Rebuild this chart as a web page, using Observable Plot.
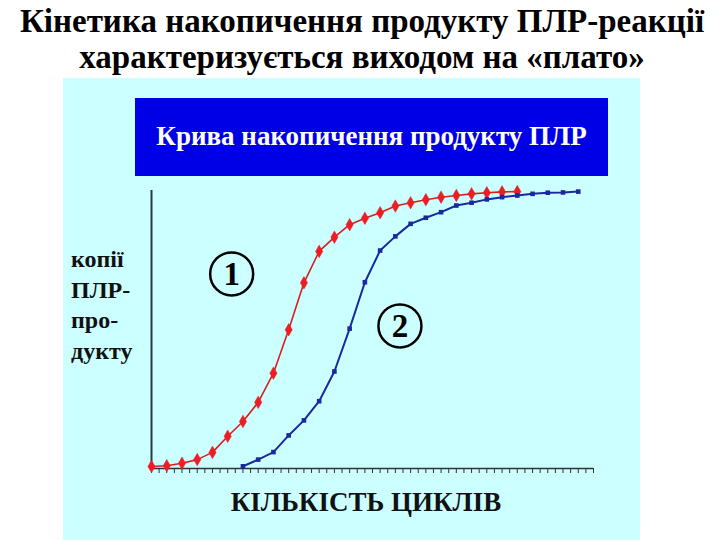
<!DOCTYPE html>
<html>
<head>
<meta charset="utf-8">
<script src="https://cdn.jsdelivr.net/npm/d3@7"></script>
<script src="https://cdn.jsdelivr.net/npm/@observablehq/plot@0.6"></script>
<style>
  html, body { margin: 0; padding: 0; background: #ffffff; }
  #page { position: relative; width: 720px; height: 540px; overflow: hidden; font-family: "Liberation Serif", "Times New Roman", serif; }
  #title { position: absolute; left: -39px; top: 3px; width: 800px; text-align: center; white-space: nowrap; font-weight: bold; font-size: 33px; line-height: 36px; color: #000; transform: translateX(1px); }
  #panel { position: absolute; left: 63px; top: 78px; width: 577px; height: 462px; background: #ccffff; }
  #box { position: absolute; left: 72px; top: 20px; width: 473px; height: 78px; background: #0000e6; color: #ffffff; font-weight: bold; font-size: 27px; line-height: 76px; text-align: center; white-space: nowrap; }
  #ylab { position: absolute; left: 8px; top: 166px; font-weight: bold; font-size: 24px; line-height: 30.5px; color: #111; }
  #xlab { position: absolute; left: 0; top: 409px; width: 606px; text-align: center; font-weight: bold; font-size: 27px; line-height: 30px; color: #111; white-space: nowrap; }
  #chart { position: absolute; left: 0; top: 0; }
</style>
</head>
<body>
<div id="page">
  <div id="title">Кінетика накопичення продукту ПЛР-реакції<br>характеризується виходом на «плато»</div>
  <div id="panel">
    <div id="chart"></div>
    <div id="box">Крива накопичення продукту ПЛР</div>
    <div id="ylab">копії<br>ПЛР-<br>про-<br>дукту</div>
    <div id="xlab">КІЛЬКІСТЬ ЦИКЛІВ</div>
  </div>
</div>
<script>
// Curve 1 (red): cycles and relative copies
const redCycles = [0,1,2,3,4,5,6,7,8,9,10,11,12,13,14,15,16,17,18,19,20,21,22,23,24];
const redValues = [0.7,1.0,1.9,3.2,5.8,11.6,16.9,23.8,34.3,49.9,66.8,78.1,83.2,87.7,90.0,92.0,94.4,95.6,96.7,97.6,98.2,98.8,99.2,99.5,99.6];
// Curve 2 (blue)
const blueCycles = [6,7,8,9,10,11,12,13,14,15,16,17,18,19,20,21,22,23,24,25,26,27,28];
const blueValues = [0.8,3.2,5.9,11.9,17.3,24.2,34.9,50.3,67.0,78.4,83.5,88.0,90.2,92.2,94.6,95.6,96.8,97.6,98.2,98.8,99.2,99.3,99.6];
// Circled curve labels
const labelText = ["1", "2"];
const labelX = [5.26, 16.3];
const labelY = [70, 51.3];

const red = redCycles.map((c, i) => ({cycle: c, copies: redValues[i]}));
const blue = blueCycles.map((c, i) => ({cycle: c, copies: blueValues[i]}));
const labels = labelText.map((t, i) => ({t, x: labelX[i], y: labelY[i]}));
const tickPositions = d3.range(0, 29.001, 0.5);

const chart = Plot.plot({
  width: 577,
  height: 462,
  marginLeft: 88,
  marginRight: 47,
  marginTop: 112,
  marginBottom: 72,
  style: {background: "transparent", fontFamily: "Liberation Serif, serif"},
  x: {domain: [0, 29]},
  y: {domain: [0, 100], axis: null},
  marks: [
    Plot.axisX({ticks: tickPositions, tickSize: 5, tickFormat: () => "", label: null, stroke: "#333", strokeWidth: 1}),
    Plot.ruleY([0], {stroke: "#333", strokeWidth: 1.5}),
    Plot.ruleX([0], {stroke: "#2a3a40", strokeWidth: 2}),
    Plot.line(red, {x: "cycle", y: "copies", stroke: "#d42020", strokeWidth: 1.6, curve: "linear"}),
    Plot.dot(red, {x: "cycle", y: "copies", symbol: "diamond", r: 3.8, fill: "#f01c24", stroke: "#e02028", strokeWidth: 0.5}),
    Plot.line(blue, {x: "cycle", y: "copies", stroke: "#1a2a9e", strokeWidth: 2, curve: "linear"}),
    Plot.dot(blue, {x: "cycle", y: "copies", symbol: "square", r: 2.6, fill: "#1a2a9e"}),
    Plot.dot(labels, {x: "x", y: "y", r: 21.5, stroke: "#000", strokeWidth: 2.5, fill: "none"}),
    Plot.text(labels, {x: "x", y: "y", text: "t", fontSize: 33, fontWeight: "bold", fill: "#000", dy: 1, fontFamily: "Liberation Serif, serif"})
  ]
});
document.getElementById("chart").appendChild(chart);
</script>
</body>
</html>
